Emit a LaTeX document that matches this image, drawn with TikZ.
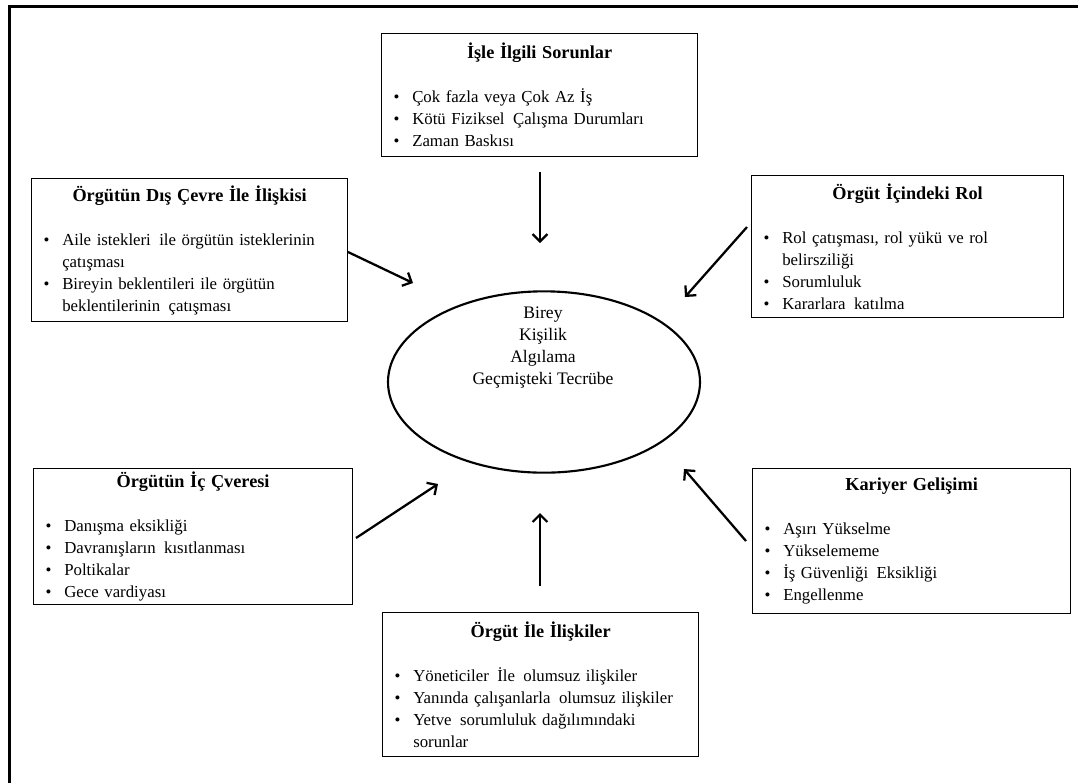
\documentclass[tikz,border=0pt]{standalone}
\usepackage{fontspec}
\setmainfont{Liberation Serif}
\usetikzlibrary{arrows.meta,shapes.geometric}

% line break inside an item, keeping the hanging indent
\newcommand\nl{\hfil\break}
% slightly wider word gap
\newcommand\dsp{\hspace{0.5em}}
% bullet line with hanging indent
\newcommand\bitem[1]{\par\noindent\hangindent=14pt\hangafter=1\makebox[14pt][l]{\textbullet}#1\par}
% centred bold heading followed by one empty line
\newcommand\btitle[1]{\noindent\makebox[\hsize]{\fontsize{13.7}{16.5}\selectfont\bfseries #1}\par\vspace{16.5pt}}

\tikzset{
  box/.style={draw, line width=0.9pt, anchor=north west, inner xsep=9pt,
    inner ysep=0pt, text width=#1, align=left,
    font=\fontsize{12.6}{16.5}\selectfont},
  arr/.style={line width=1.7pt, -{Straight Barb[length=5.5pt,width=11pt,line width=1.7pt]}},
}

\begin{document}
\begin{tikzpicture}[x=0.75pt,y=-0.75pt]
\useasboundingbox (0,0) rectangle (1078,783);

% outer frame (top and left edges)
\draw[line width=2.3pt] (9.5,783) -- (9.5,6.5) -- (1078,6.5);

% central ellipse
\node[draw, ellipse, line width=1.6pt, minimum width=234pt, minimum height=136pt] (core) at (544,382) {};
\node[align=center, font=\fontsize{13.2}{16.5}\selectfont] (coretext) at (543,348)
  {Birey\\Kişilik\\Algılama\\Geçmişteki Tecrübe};

% surrounding boxes
\node[box=219pt, minimum height=92.25pt] (work) at (381,33) {%
  \btitle{İşle İlgili Sorunlar}%
  \bitem{Çok fazla veya Çok Az İş}%
  \bitem{Kötü Fiziksel\dsp Çalışma Durumları}%
  \bitem{Zaman Baskısı}};

\node[box=219pt, minimum height=107.25pt] (ext) at (31,178) {%
  \btitle{Örgütün Dış Çevre İle İlişkisi}%
  \bitem{Aile istekleri\dsp ile örgütün isteklerinin\nl çatışması}%
  \bitem{Bireyin beklentileri ile örgütün\nl beklentilerinin\dsp çatışması}};

\node[box=216pt, minimum height=106.5pt] (role) at (751,175) {%
  \btitle{Örgüt İçindeki Rol}%
  \bitem{Rol çatışması, rol yükü ve rol\nl belirsziliği}%
  \bitem{Sorumluluk}%
  \bitem{Kararlara\dsp katılma}};

\node[box=221.25pt, minimum height=102pt] (inner) at (33,468) {%
  \btitle{Örgütün İç Çveresi}%
  \bitem{Danışma eksikliği}%
  \bitem{Davranışların\dsp kısıtlanması}%
  \bitem{Poltikalar}%
  \bitem{Gece vardiyası}};

\node[box=220.5pt, minimum height=108.75pt] (career) at (752,468) {%
  \btitle{Kariyer Gelişimi}%
  \bitem{Aşırı Yükselme}%
  \bitem{Yükselememe}%
  \bitem{İş Güvenliği\dsp Eksikliği}%
  \bitem{Engellenme}};

\node[box=219pt, minimum height=108pt] (rel) at (382,612) {%
  \btitle{Örgüt İle İlişkiler}%
  \bitem{Yöneticiler\dsp İle\dsp olumsuz ilişkiler}%
  \bitem{Yanında çalışanlarla\dsp olumsuz ilişkiler}%
  \bitem{Yetve\dsp sorumluluk dağılımındaki\nl sorunlar}};

% arrow end points
\coordinate (wS) at (540,172);  \coordinate (wE) at (540,243);
\coordinate (eS) at (348,252);  \coordinate (eE) at (413,283);
\coordinate (rS) at (747,227);  \coordinate (rE) at (685,297);
\coordinate (iS) at (356,538);  \coordinate (iE) at (438,484);
\coordinate (bS) at (540,586);  \coordinate (bE) at (540,513);
\coordinate (cS) at (746,541);  \coordinate (cE) at (684,469);

\draw[arr] (wS) -- (wE);
\draw[arr] (eS) -- (eE);
\draw[arr] (rS) -- (rE);
\draw[arr] (iS) -- (iE);
\draw[arr] (bS) -- (bE);
\draw[arr] (cS) -- (cE);
\end{tikzpicture}
\end{document}
